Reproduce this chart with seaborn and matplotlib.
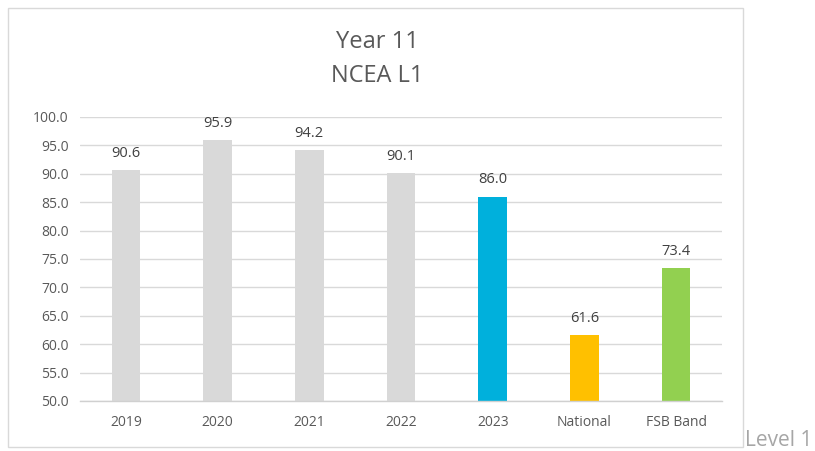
import matplotlib
matplotlib.use("Agg")
import matplotlib.pyplot as plt
import seaborn as sns
import pandas as pd
from matplotlib.patches import Rectangle

categories = ["2019", "2020", "2021", "2022", "2023", "National", "FSB Band"]
values = [90.6, 95.9, 94.2, 90.1, 86.0, 61.6, 73.4]
bar_colors = ["#d9d9d9", "#d9d9d9", "#d9d9d9", "#d9d9d9", "#00b0dc", "#ffc000", "#92d050"]
y_ticks = [50, 55, 60, 65, 70, 75, 80, 85, 90, 95, 100]

sns.set_theme(style="white")
plt.rcParams["font.family"] = ["Open Sans", "DejaVu Sans"]

df = pd.DataFrame({"category": categories, "value": values})

fig = plt.figure(figsize=(8.15, 4.51), dpi=100)
ax = fig.add_axes([80 / 815, 1 - 401 / 451, 642 / 815, (401 - 117) / 451])

sns.barplot(data=df, x="category", y="value", hue="category",
            palette=dict(zip(categories, bar_colors)), order=categories,
            width=0.31, legend=False, ax=ax, saturation=1, linewidth=0)

ax.set_ylim(50, 100)
ax.set_xlim(-0.5, 6.5)
ax.set_yticks(y_ticks)
ax.set_yticklabels([f"{t:.1f}" for t in y_ticks])
ax.yaxis.grid(True, color="#d9d9d9", linewidth=1)
ax.set_axisbelow(True)
for side in ["top", "right", "left"]:
    ax.spines[side].set_visible(False)
ax.spines["bottom"].set_color("#d0d0d0")
ax.spines["bottom"].set_linewidth(1)
ax.tick_params(axis="both", length=0, labelsize=10, colors="#595959", pad=8)
ax.tick_params(axis="x", pad=10)
ax.set_xlabel("")
ax.set_ylabel("")

for i, v in enumerate(values):
    ax.text(i, v + 1.6, f"{v:.1f}", ha="center", va="bottom",
            fontsize=10.5, color="#404040")

# outer chart frame
fig.patches.append(Rectangle((8 / 815, 1 - 447 / 451), (743 - 8) / 815, (447 - 8) / 451,
                             transform=fig.transFigure, fill=False,
                             edgecolor="#d9d9d9", linewidth=1))

fig.text(377 / 815, 1 - 42 / 451, "Year 11", ha="center", va="center",
         fontsize=17, color="#595959")
fig.text(377 / 815, 1 - 76 / 451, "NCEA L1", ha="center", va="center",
         fontsize=17, color="#595959")
fig.text(745 / 815, 1 - 440 / 451, "Level 1", ha="left", va="center",
         fontsize=15, color="#a6a6a6")

fig.savefig("out.png", dpi=100, facecolor="white")
